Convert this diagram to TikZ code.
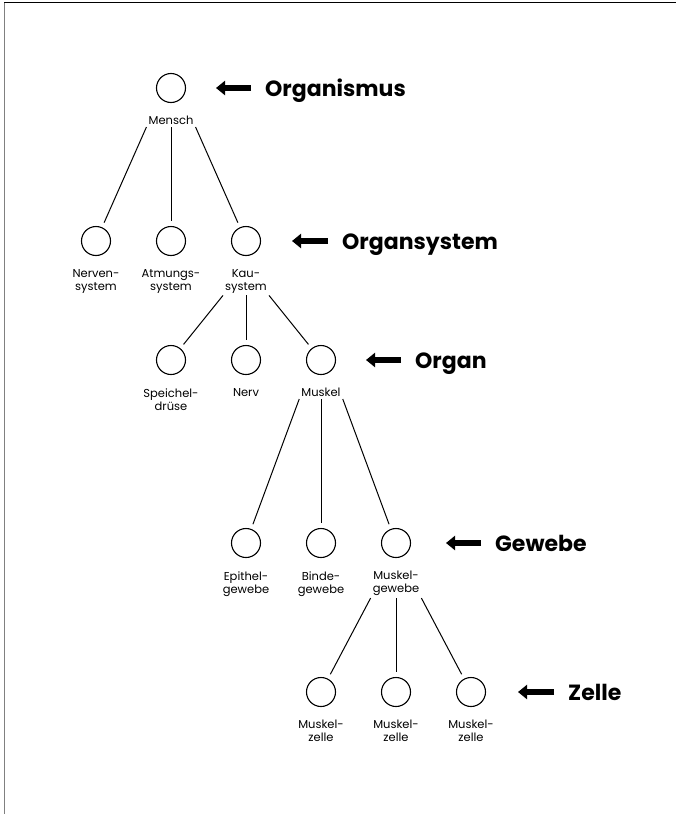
\documentclass[tikz,border=0pt]{standalone}
\usepackage{fontspec}
\setmainfont{Poppins}
\usetikzlibrary{positioning,arrows.meta}
\begin{document}
\begin{tikzpicture}[x=1pt,y=-1pt,
  dot/.style={circle,draw,line width=1.1pt,minimum size=29pt,inner sep=0pt},
  lbl/.style={align=center,inner sep=2pt,font=\fontsize{11.5}{13}\selectfont},
  level/.style={anchor=base west,inner sep=0pt,font=\fontsize{22}{24}\selectfont\bfseries},
  bigarrow/.style={line width=6pt,-{Triangle[length=9pt,width=14pt]},shorten <=14pt},
  link/.style={line width=1pt,shorten >=5pt}]
\useasboundingbox (0,0) rectangle (676,814);
\draw[line width=1.5pt] (4,2.5) -- (676,2.5);
\draw[gray,line width=1.5pt] (4.5,2.5) -- (4.5,814);

\node[dot] (mensch) at (171,88) {};
\node[lbl,below=11pt of mensch] (mensch-t) {Mensch};

\node[dot] (nerven) at (96,241) {};
\node[dot] (atmung) at (171,241) {};
\node[dot] (kau) at (246,241) {};
\node[lbl,below=11pt of nerven] (nerven-t) {Nerven-\\system};
\node[lbl,below=11pt of atmung] (atmung-t) {Atmungs-\\system};
\node[lbl,below=11pt of kau] (kau-t) {Kau-\\system};

\node[dot] (speichel) at (171,360) {};
\node[dot] (nerv) at (246,360) {};
\node[dot] (muskel) at (321,360) {};
\node[lbl,below=11pt of speichel] (speichel-t) {Speichel-\\drüse};
\node[lbl,below=11pt of nerv] (nerv-t) {Nerv};
\node[lbl,below=11pt of muskel] (muskel-t) {Muskel};

\node[dot] (epithel) at (246,543) {};
\node[dot] (binde) at (321,543) {};
\node[dot] (mgewebe) at (396,543) {};
\node[lbl,below=11pt of epithel] (epithel-t) {Epithel-\\gewebe};
\node[lbl,below=11pt of binde] (binde-t) {Binde-\\gewebe};
\node[lbl,below=11pt of mgewebe] (mgewebe-t) {Muskel-\\gewebe};

\node[dot] (zelle1) at (321,692) {};
\node[dot] (zelle2) at (396,692) {};
\node[dot] (zelle3) at (471,692) {};
\node[lbl,below=11pt of zelle1] (zelle1-t) {Muskel-\\zelle};
\node[lbl,below=11pt of zelle2] (zelle2-t) {Muskel-\\zelle};
\node[lbl,below=11pt of zelle3] (zelle3-t) {Muskel-\\zelle};

\draw[link] (mensch-t.south west) -- (nerven);
\draw[link] (mensch-t.south) -- (atmung);
\draw[link] (mensch-t.south east) -- (kau);
\draw[link] (kau-t.south west) -- (speichel);
\draw[link] (kau-t.south) -- (nerv);
\draw[link] (kau-t.south east) -- (muskel);
\draw[link] (muskel-t.south west) -- (epithel);
\draw[link] (muskel-t.south) -- (binde);
\draw[link] (muskel-t.south east) -- (mgewebe);
\draw[link] (mgewebe-t.south west) -- (zelle1);
\draw[link] (mgewebe-t.south) -- (zelle2);
\draw[link] (mgewebe-t.south east) -- (zelle3);

\node[level] (organismus) at (265,96) {Organismus};
\coordinate (tip1) at (216,88);
\draw[bigarrow] (organismus.west |- tip1) -- (tip1);
\node[level] (organsystem) at (342,249) {Organsystem};
\coordinate (tip2) at (292,241);
\draw[bigarrow] (organsystem.west |- tip2) -- (tip2);
\node[level] (organ) at (415,368) {Organ};
\coordinate (tip3) at (366,360);
\draw[bigarrow] (organ.west |- tip3) -- (tip3);
\node[level] (gewebe) at (495,551) {Gewebe};
\coordinate (tip4) at (446,543);
\draw[bigarrow] (gewebe.west |- tip4) -- (tip4);
\node[level] (zelle) at (568,700) {Zelle};
\coordinate (tip5) at (518,692);
\draw[bigarrow] (zelle.west |- tip5) -- (tip5);
\end{tikzpicture}
\end{document}
